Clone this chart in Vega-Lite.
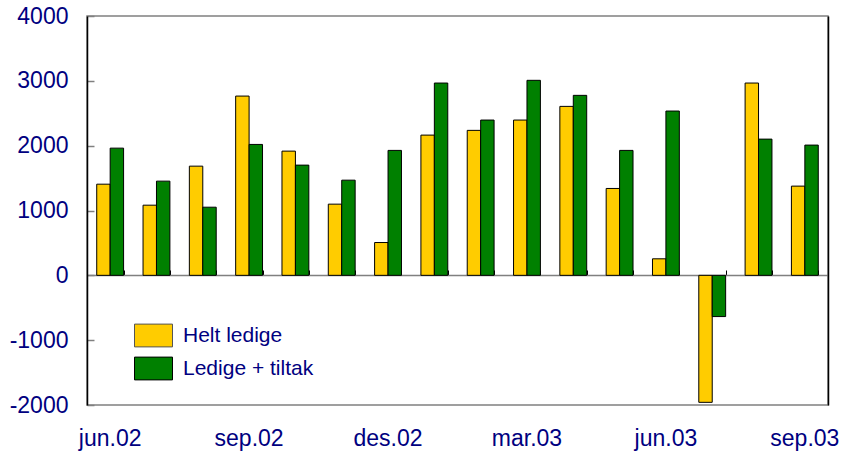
{
  "$schema": "https://vega.github.io/schema/vega-lite/v6.json",
  "width": 741,
  "height": 389,
  "autosize": {"type": "none"},
  "padding": {"left": 87, "top": 16, "right": 17, "bottom": 51},
  "background": "white",
  "config": {
    "view": {"stroke": "#808080", "strokeWidth": 1.5},
    "font": "Liberation Sans"
  },
  "data": {
    "values": [
      {"month": "jun.02", "series": "Helt ledige", "value": 1406},
      {"month": "jun.02", "series": "Ledige + tiltak", "value": 1962},
      {"month": "jul.02", "series": "Helt ledige", "value": 1082},
      {"month": "jul.02", "series": "Ledige + tiltak", "value": 1453},
      {"month": "aug.02", "series": "Helt ledige", "value": 1684},
      {"month": "aug.02", "series": "Ledige + tiltak", "value": 1051},
      {"month": "sep.02", "series": "Helt ledige", "value": 2765},
      {"month": "sep.02", "series": "Ledige + tiltak", "value": 2019},
      {"month": "okt.02", "series": "Helt ledige", "value": 1916},
      {"month": "okt.02", "series": "Ledige + tiltak", "value": 1700},
      {"month": "nov.02", "series": "Helt ledige", "value": 1098},
      {"month": "nov.02", "series": "Ledige + tiltak", "value": 1468},
      {"month": "des.02", "series": "Helt ledige", "value": 506},
      {"month": "des.02", "series": "Ledige + tiltak", "value": 1927},
      {"month": "jan.03", "series": "Helt ledige", "value": 2163},
      {"month": "jan.03", "series": "Ledige + tiltak", "value": 2966},
      {"month": "feb.03", "series": "Helt ledige", "value": 2236},
      {"month": "feb.03", "series": "Ledige + tiltak", "value": 2395},
      {"month": "mar.03", "series": "Helt ledige", "value": 2395},
      {"month": "mar.03", "series": "Ledige + tiltak", "value": 3008},
      {"month": "apr.03", "series": "Helt ledige", "value": 2606},
      {"month": "apr.03", "series": "Ledige + tiltak", "value": 2776},
      {"month": "mai.03", "series": "Helt ledige", "value": 1340},
      {"month": "mai.03", "series": "Ledige + tiltak", "value": 1927},
      {"month": "jun.03", "series": "Helt ledige", "value": 255},
      {"month": "jun.03", "series": "Ledige + tiltak", "value": 2534},
      {"month": "jul.03", "series": "Helt ledige", "value": -1959},
      {"month": "jul.03", "series": "Ledige + tiltak", "value": -636},
      {"month": "aug.03", "series": "Helt ledige", "value": 2966},
      {"month": "aug.03", "series": "Ledige + tiltak", "value": 2101},
      {"month": "sep.03", "series": "Helt ledige", "value": 1376},
      {"month": "sep.03", "series": "Ledige + tiltak", "value": 2009}
    ]
  },
  "layer": [
    {
      "mark": {"type": "bar", "stroke": "black", "strokeWidth": 1},
      "encoding": {
        "x": {
          "field": "month", "type": "nominal", "sort": null,
          "scale": {"paddingInner": 0.42, "paddingOuter": 0.21},
          "axis": {
            "orient": "top", "offset": -259, "labels": false, "title": null,
            "ticks": true, "tickBand": "extent", "tickSize": 5, "tickColor": "black",
            "tickWidth": 1,
            "domainColor": "#808080", "domainWidth": 1.5, "grid": false
          }
        },
        "xOffset": {"field": "series", "type": "nominal", "sort": null},
        "y": {
          "field": "value", "type": "quantitative",
          "scale": {"domain": [-2000, 4000], "nice": false},
          "axis": {
            "values": [-2000, -1000, 0, 1000, 2000, 3000, 4000],
            "labelExpr": "datum.value + ''",
            "title": null, "grid": false, "tickSize": -7, "tickColor": "#808080",
            "tickWidth": 1.5, "domainColor": "black", "domainWidth": 1.5,
            "labelColor": "#000080", "labelFontSize": 23, "labelPadding": 26
          }
        },
        "color": {
          "field": "series", "type": "nominal", "sort": null,
          "scale": {"domain": ["Helt ledige", "Ledige + tiltak"], "range": ["#FFCC00", "#008000"]},
          "legend": {
            "orient": "none", "legendX": 47, "legendY": 300, "title": null,
            "padding": 0,
            "symbolType": "M-1,-0.6L1,-0.6L1,0.6L-1,0.6Z", "symbolSize": 1444,
            "symbolStrokeColor": "black", "symbolStrokeWidth": 1, "symbolOpacity": 1,
            "labelFontSize": 21, "labelColor": "#000080", "labelOffset": 10,
            "rowPadding": 0,
            "encode": {
              "symbols": {
                "enter": {
                  "fill": {"signal": "datum.value === 'Ledige + tiltak' ? '#339933' : '#FFCC00'"}
                },
                "update": {
                  "fill": {"signal": "datum.value === 'Ledige + tiltak' ? '#339933' : '#FFCC00'"},
                  "stroke": {"signal": "datum.value === 'Ledige + tiltak' ? '#000000' : '#555555'"}
                }
              }
            }
          }
        }
      }
    },
    {
      "mark": {"type": "bar", "opacity": 0},
      "encoding": {
        "x": {
          "field": "month", "type": "nominal", "sort": null,
          "axis": {
            "orient": "bottom", "values": ["jun.02", "sep.02", "des.02", "mar.03", "jun.03", "sep.03"],
            "title": null, "ticks": false, "domain": false, "grid": false,
            "labelColor": "#000080", "labelFontSize": 23, "labelPadding": 22, "labelAngle": 0
          }
        },
        "y": {
          "field": "value", "type": "quantitative",
          "axis": {
            "orient": "right", "title": null, "labels": false, "ticks": false, "grid": false,
            "domainColor": "black", "domainWidth": 1.5
          }
        }
      }
    }
  ],
  "resolve": {"axis": {"x": "independent", "y": "independent"}}
}
